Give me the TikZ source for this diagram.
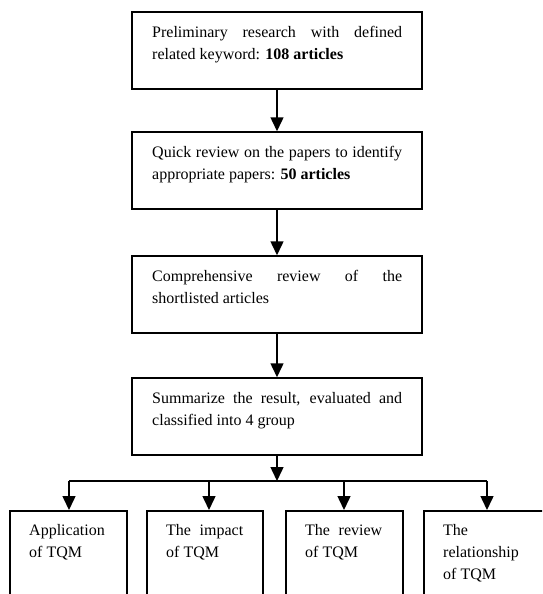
\documentclass[tikz,border=0pt]{standalone}
\usepackage{fontspec}
\setmainfont{Liberation Serif}
\usetikzlibrary{arrows.meta}
\begin{document}
\begin{tikzpicture}[x=1pt,y=-1pt,
  box/.style={draw,line width=1.5pt,minimum width=290pt,minimum height=77pt,inner sep=0pt},
  sbox/.style={draw,line width=1.5pt,minimum width=117pt,minimum height=110pt,inner sep=0pt,anchor=north west},
  txt/.style={anchor=north west,inner sep=0pt,align=justify,font=\fontsize{16}{22}\selectfont,execute at begin node=\strut},
  arr/.style={line width=1.5pt,-{Triangle[width=13pt,length=14pt]}},
  lnk/.style={line width=1.5pt}]
\useasboundingbox (0,0) rectangle (542,594);
\clip (0,0) rectangle (542,594);
% main boxes
\node[box] (b1) at (277,50.5) {};
\node[box] (b2) at (277,170.5) {};
\node[box] (b3) at (277,294.5) {};
\node[box] (b4) at (277,416.5) {};
\node[txt,text width=250pt] (t1) at (152,21.6) {Preliminary research with defined\linebreak related keyword: \textbf{108 articles}};
\node[txt,text width=250pt] (t2) at (152,141.6) {Quick review on the papers to identify\linebreak appropriate papers: \textbf{50 articles}};
\node[txt,text width=250pt] (t3) at (152,265.6) {Comprehensive review of the\linebreak shortlisted articles};
\node[txt,text width=250pt] (t4) at (152,387.6) {Summarize the result, evaluated and\linebreak classified into 4 group};
% bottom boxes
\node[sbox] (ga) at (9,510) {};
\node[sbox,minimum width=116pt] (gb) at (146,510) {};
\node[sbox] (gc) at (285,510) {};
\node[sbox,minimum width=130pt] (gd) at (423,510) {};
\node[txt,text width=77pt] (ua) at (29,519.6) {Application\linebreak of TQM};
\node[txt,text width=77pt] (ub) at (166,519.6) {The impact\linebreak of TQM};
\node[txt,text width=77pt] (uc) at (305,519.6) {The review\linebreak of TQM};
\node[txt,text width=77pt] (ud) at (443,519.6) {The\\relationship\\of TQM};
% connectors
\draw[arr] (b1.south) -- (b2.north);
\draw[arr] (b2.south) -- (b3.north);
\draw[arr] (b3.south) -- (b4.north);
\coordinate (hub) at (277,481);
\coordinate (ca) at (69,481);
\coordinate (cb) at (209,481);
\coordinate (cc) at (344,481);
\coordinate (cd) at (487,481);
\draw[arr] (b4.south) -- (hub);
\draw[lnk] (ca) -- (cd);
\draw[arr] (ca) -- (ga.north -| ca);
\draw[arr] (cb) -- (gb.north -| cb);
\draw[arr] (cc) -- (gc.north -| cc);
\draw[arr] (cd) -- (gd.north -| cd);
\end{tikzpicture}
\end{document}
